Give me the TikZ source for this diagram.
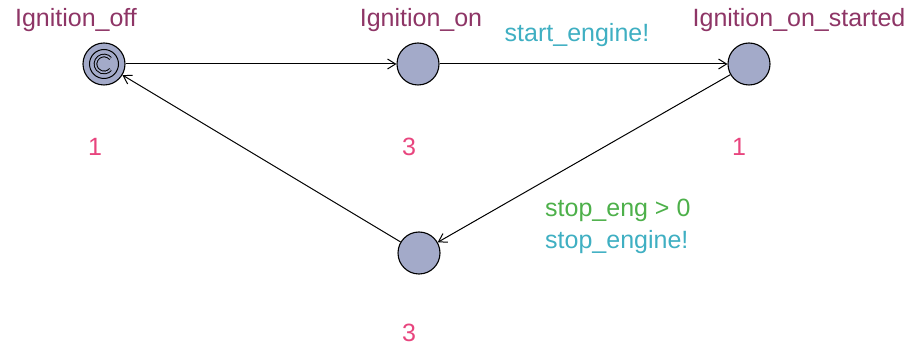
\documentclass[tikz,border=0pt]{standalone}
\usepackage{fontspec}
\setmainfont{Liberation Sans}
\usetikzlibrary{arrows.meta}
\definecolor{locfill}{HTML}{A3AAC9}
\definecolor{locname}{HTML}{8E3566}
\definecolor{invcol}{HTML}{E8457E}
\definecolor{synccol}{HTML}{3FAFC2}
\definecolor{guardcol}{HTML}{4DB04A}
\tikzset{
  loc/.style={circle,draw=black,line width=1.1pt,fill=locfill,minimum size=42pt,inner sep=0pt},
  lbl/.style={font=\fontsize{25}{28}\selectfont,inner sep=0pt},
  locname/.style={lbl,text=locname},
  inv/.style={lbl,text=invcol},
  sync/.style={lbl,text=synccol},
  guard/.style={lbl,text=guardcol},
  edge/.style={draw=black,line width=1pt,-{Straight Barb[length=8pt,width=10pt,line width=1pt]}}
}
\begin{document}
\begin{tikzpicture}[x=1pt,y=-1pt]
\useasboundingbox (0,0) rectangle (914,347);
\node[loc] (off) at (104,64) {};
\draw[line width=1pt] (off.center) circle (14.5pt);
\draw[line width=3.6pt] (off.center) ++(40:8.5pt) arc[start angle=40,end angle=320,radius=8.5pt];
\draw[line width=1.6pt,locfill] (off.center) ++(40:8.5pt) arc[start angle=40,end angle=320,radius=8.5pt];
\node[loc] (on) at (418,64) {};
\node[loc] (started) at (749,64) {};
\node[loc] (bot) at (419,253) {};
\node[locname] (noff) at (76,20) {Ignition\_off};
\node[locname] (non) at (421,20) {Ignition\_on};
\node[locname] (nstarted) at (799,20) {Ignition\_on\_started};
\node[inv] (ioff) at (95,147) {1};
\node[inv] (ion) at (409,147) {3};
\node[inv] (istarted) at (739,147) {1};
\node[inv] (ibot) at (409,333) {3};
\node[sync] (s1) at (577,35) {start\_engine!};
\node[guard,anchor=west] (g2) at (545,210) {stop\_eng > 0};
\node[sync,anchor=west] (s2) at (545,242) {stop\_engine!};
\draw[edge] (off) -- (on);
\draw[edge] (on) -- (started);
\draw[edge] (started) -- (bot);
\draw[edge] (bot) -- (off);
\end{tikzpicture}
\end{document}
